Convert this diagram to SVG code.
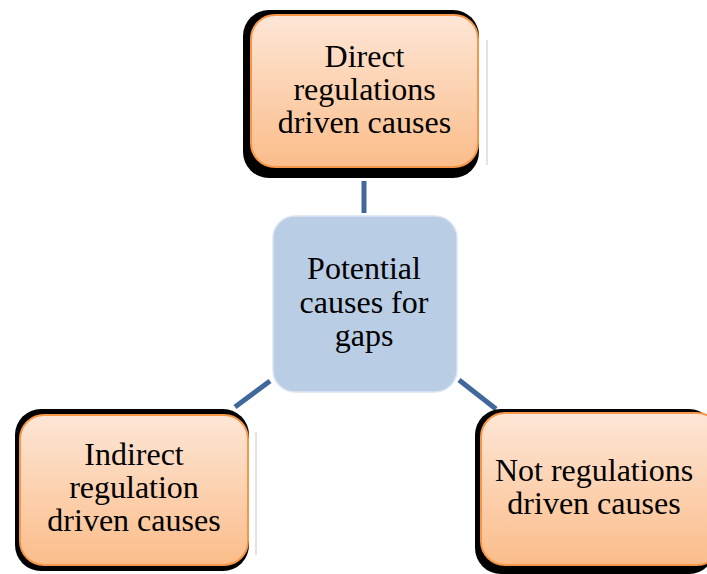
<svg xmlns="http://www.w3.org/2000/svg" width="707" height="574" viewBox="0 0 707 574">
<defs>
<linearGradient id="og" x1="0" y1="0" x2="0" y2="1">
<stop offset="0" stop-color="#fde6d6"/>
<stop offset="1" stop-color="#fbbd8a"/>
</linearGradient>
<style>
.shadow{fill:#000}
.orange{fill:url(#og);stroke:#f79646;stroke-width:2}
.blue{fill:#b9cde4;stroke:#dbe5f1;stroke-width:1.5}
.conn{stroke:#41689b;stroke-width:5;fill:none}
.edge{stroke:#c8c8c8;stroke-width:1}
text{font-family:"Liberation Serif","Times New Roman",serif;font-size:32px;fill:#000;text-anchor:middle}
</style>
</defs>
<g id="connectors">
<line class="conn" x1="364" y1="181" x2="364" y2="213"/>
<line class="conn" x1="270" y1="381" x2="235" y2="407"/>
<line class="conn" x1="459" y1="380" x2="496" y2="409"/>
</g>
<g id="node-direct">
<rect class="shadow" x="243" y="10" width="236" height="168" rx="26"/>
<line class="edge" x1="487" y1="40" x2="487" y2="165"/>
<rect class="orange" x="251" y="15" width="227" height="152" rx="24"/>
<text x="364.5" y="67">Direct</text>
<text x="364.5" y="100">regulations</text>
<text x="364.5" y="133">driven causes</text>
</g>
<g id="node-center">
<rect class="blue" x="273" y="216" width="184" height="176" rx="22"/>
<text x="364" y="279">Potential</text>
<text x="364" y="313">causes for</text>
<text x="364" y="346">gaps</text>
</g>
<g id="node-indirect">
<rect class="shadow" x="15" y="409" width="234" height="162" rx="26"/>
<line class="edge" x1="256" y1="432" x2="256" y2="555"/>
<rect class="orange" x="20" y="415" width="228" height="150" rx="24"/>
<text x="134" y="465">Indirect</text>
<text x="134" y="498">regulation</text>
<text x="134" y="531">driven causes</text>
</g>
<g id="node-not">
<rect class="shadow" x="475" y="409" width="240" height="165" rx="26"/>
<rect class="orange" x="481" y="413" width="240" height="152" rx="24"/>
<text x="594" y="481">Not regulations</text>
<text x="594" y="514">driven causes</text>
</g>
</svg>
